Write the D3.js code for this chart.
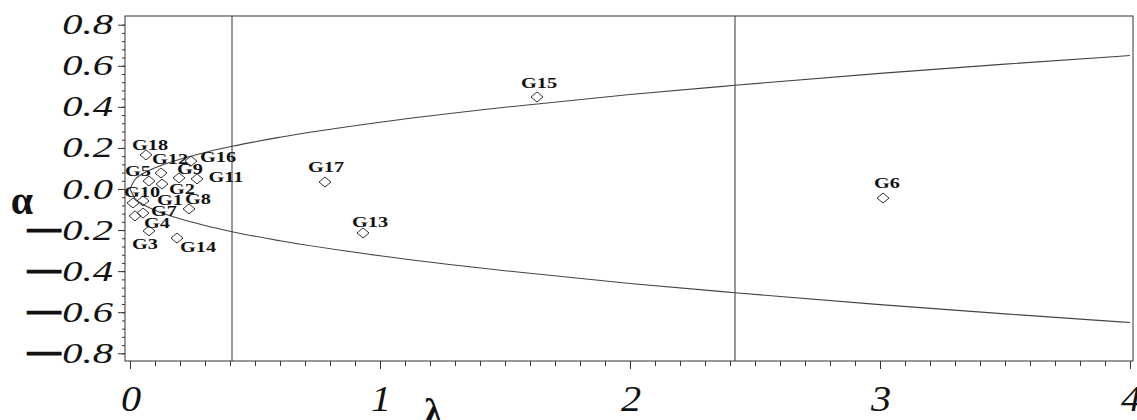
<!DOCTYPE html>
<html>
<head>
<meta charset="utf-8">
<script src="https://cdn.jsdelivr.net/npm/d3@7"></script>
<style>
body { margin: 0; background: #fff; }
</style>
</head>
<body>
<div id="chart"></div>
<script>
// genotypes: lambda (x) and alpha (y)
var genotypes = ["G1", "G2", "G3", "G4", "G5", "G6", "G7", "G8", "G9",
                 "G10", "G11", "G12", "G13", "G14", "G15", "G16", "G17", "G18"];
var lambdaVals = [0.052, 0.128, 0.076, 0.020, 0.076, 3.012, 0.052, 0.236, 0.196,
                  0.012, 0.268, 0.124, 0.932, 0.188, 1.628, 0.244, 0.780, 0.064];
var alphaVals = [-0.058, 0.024, -0.204, -0.131, 0.039, -0.044, -0.117, -0.097, 0.054,
                 -0.068, 0.049, 0.078, -0.214, -0.239, 0.448, 0.136, 0.034, 0.166];

// boundary curve (upper half, lower is its mirror)
var boundLambda = [0, 0.02, 0.05, 0.1, 0.2, 0.3, 0.408, 0.6, 1, 1.5, 2, 2.42, 3, 3.5, 4];
var boundAlpha = [0, 0.046, 0.073, 0.103, 0.145, 0.178, 0.208, 0.252, 0.325, 0.398, 0.46, 0.505, 0.563, 0.608, 0.65];

// vertical cut-off lines
var cutLines = [0.408, 2.42];

var xTickLabels = [0, 1, 2, 3, 4];
var yTickLabels = [-0.8, -0.6, -0.4, -0.2, 0, 0.2, 0.4, 0.6, 0.8];

// where each point label sits relative to its marker (px)
var labelOffset = {
  G1: [27, -1], G2: [20, 5], G3: [-4, 13], G4: [22, 7], G5: [-11, -10], G6: [4, -15],
  G7: [21, -2], G8: [9, -10], G9: [11, -9], G10: [9, -11], G11: [29, -2], G12: [9, -14],
  G13: [7, -11], G14: [21, 9], G15: [2, -14], G16: [27, -4], G17: [1, -15], G18: [4, -10]
};

var width = 1137, height = 420;

var x = d3.scaleLinear().domain([0, 4]).range([130, 1130]);
var y = d3.scaleLinear().domain([-0.8, 0.8]).range([353.3, 24.7]);

var frameLeft = 125, frameRight = 1133, frameTop = 16, frameBottom = 361;

var svg = d3.select('#chart').append('svg')
  .attr('width', width)
  .attr('height', height)
  .style('font-family', '"Liberation Serif", "Times New Roman", serif');

svg.append('defs').append('clipPath').attr('id', 'plotclip')
  .append('rect')
  .attr('x', frameLeft).attr('y', frameTop)
  .attr('width', frameRight - frameLeft).attr('height', frameBottom - frameTop);

// frame
svg.append('rect')
  .attr('x', frameLeft).attr('y', frameTop)
  .attr('width', frameRight - frameLeft).attr('height', frameBottom - frameTop)
  .style('fill', 'none').style('stroke', '#333').style('stroke-width', 1);

// x axis ticks (minor then major)
var minorX = d3.range(0, 40.5).map(function (i) { return i / 10; });
svg.append('g')
  .attr('transform', 'translate(0,' + frameBottom + ')')
  .call(d3.axisBottom(x).tickValues(minorX).tickSize(5).tickFormat(''))
  .call(function (g) { g.select('.domain').remove(); })
  .selectAll('line').style('stroke', '#333');
svg.append('g')
  .attr('transform', 'translate(0,' + frameBottom + ')')
  .call(d3.axisBottom(x).tickValues(xTickLabels).tickSize(8).tickFormat(''))
  .call(function (g) { g.select('.domain').remove(); })
  .selectAll('line').style('stroke', '#333');

// y axis ticks
var minorY = d3.range(-20, 20.5).map(function (i) { return i * 0.04; });
svg.append('g')
  .attr('transform', 'translate(' + frameLeft + ',0)')
  .call(d3.axisLeft(y).tickValues(minorY).tickSize(3).tickFormat(''))
  .call(function (g) { g.select('.domain').remove(); })
  .selectAll('line').style('stroke', '#333');
svg.append('g')
  .attr('transform', 'translate(' + frameLeft + ',0)')
  .call(d3.axisLeft(y).tickValues(yTickLabels).tickSize(7).tickFormat(''))
  .call(function (g) { g.select('.domain').remove(); })
  .selectAll('line').style('stroke', '#333');

// x tick labels
svg.append('g').selectAll('text').data(xTickLabels)
  .enter().append('text')
  .attr('transform', function (d) { return 'translate(' + (x(d) + 1) + ',411) scale(1.15,1)'; })
  .attr('text-anchor', 'middle')
  .style('font-style', 'italic')
  .style('font-size', '35px')
  .style('fill', '#111')
  .text(function (d) { return d; });

// y tick labels
var yLab = svg.append('g').selectAll('text').data(yTickLabels)
  .enter().append('text')
  .attr('transform', function (d) { return 'translate(113,' + (y(d) + 9.5) + ') scale(1.4,1)'; })
  .attr('text-anchor', 'end')
  .style('font-size', '29px')
  .style('fill', '#111');
yLab.filter(function (d) { return d < 0; })
  .append('tspan')
  .attr('dy', -4)
  .style('font-size', '22px')
  .style('stroke', '#111').style('stroke-width', 2.6)
  .text('\u2014');
yLab.append('tspan')
  .attr('dx', function (d) { return d < 0 ? 2 : 0; })
  .attr('dy', function (d) { return d < 0 ? 4 : 0; })
  .style('font-style', 'italic')
  .text(function (d) { return Math.abs(d).toFixed(1); });

// axis titles
svg.append('text')
  .attr('x', 22).attr('y', 214)
  .attr('text-anchor', 'middle')
  .style('font-weight', 'bold')
  .style('font-size', '40px')
  .style('fill', '#111')
  .text('\u03b1');
svg.append('text')
  .attr('x', 433).attr('y', 423)
  .attr('text-anchor', 'middle')
  .style('font-weight', 'bold')
  .style('font-size', '36px')
  .style('fill', '#111')
  .text('\u03bb');

var plot = svg.append('g').attr('clip-path', 'url(#plotclip)');

// vertical lines
plot.selectAll('line.cut').data(cutLines)
  .enter().append('line')
  .attr('class', 'cut')
  .attr('x1', function (d) { return x(d); })
  .attr('x2', function (d) { return x(d); })
  .attr('y1', frameTop).attr('y2', frameBottom)
  .style('stroke', '#333').style('stroke-width', 1);

// boundary curves
var bounds = boundLambda.map(function (l, i) { return [l, boundAlpha[i]]; });
var line = d3.line()
  .x(function (d) { return x(d[0]); })
  .y(function (d) { return y(d[1]); })
  .curve(d3.curveMonotoneX);
plot.append('path')
  .attr('d', line(bounds))
  .style('fill', 'none').style('stroke', '#444').style('stroke-width', 1.1);
plot.append('path')
  .attr('d', line(bounds.map(function (d) { return [d[0], -d[1]]; })))
  .style('fill', 'none').style('stroke', '#444').style('stroke-width', 1.1);

// diamond markers
var points = genotypes.map(function (g, i) {
  return { name: g, lambda: lambdaVals[i], alpha: alphaVals[i] };
});
var diamond = 'M0,-5L6,0L0,5L-6,0Z';
svg.append('g').selectAll('path').data(points)
  .enter().append('path')
  .attr('transform', function (d) { return 'translate(' + x(d.lambda) + ',' + y(d.alpha) + ')'; })
  .attr('d', diamond)
  .style('fill', 'none').style('stroke', '#333').style('stroke-width', 1);

// point labels
svg.append('g').selectAll('text').data(points)
  .enter().append('text')
  .attr('transform', function (d) {
    var o = labelOffset[d.name];
    return 'translate(' + (x(d.lambda) + o[0]) + ',' + (y(d.alpha) + o[1]) + ') scale(1.45,1)';
  })
  .attr('text-anchor', 'middle')
  .attr('dy', '0.35em')
  .style('font-weight', 'bold')
  .style('font-size', '14px')
  .style('fill', '#111')
  .text(function (d) { return d.name; });
</script>
</body>
</html>
